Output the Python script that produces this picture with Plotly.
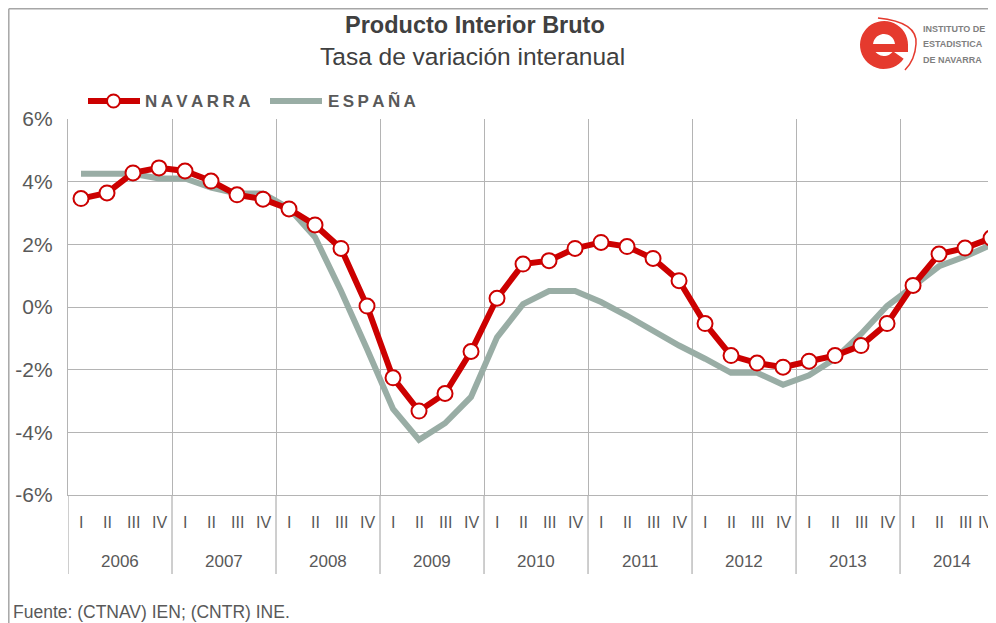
import math
import plotly.graph_objects as go

quarters = ["I", "II", "III", "IV"]
years = ["2006", "2007", "2008", "2009", "2010", "2011", "2012", "2013", "2014"]
navarra = [3.46, 3.64, 4.28, 4.44, 4.34, 4.02, 3.58, 3.44,
           3.13, 2.62, 1.87, 0.03, -2.26, -3.32, -2.76, -1.42,
           0.28, 1.37, 1.48, 1.87, 2.06, 1.93, 1.55, 0.84,
           -0.53, -1.55, -1.79, -1.92, -1.73, -1.55, -1.23, -0.53,
           0.69, 1.69, 1.88, 2.20]
espana = [4.25, 4.25, 4.25, 4.10, 4.10, 3.81, 3.62, 3.62,
          3.15, 2.23, 0.51, -1.34, -3.25, -4.24, -3.71, -2.87,
          -0.97, 0.09, 0.51, 0.51, 0.16, -0.28, -0.76, -1.23,
          -1.65, -2.10, -2.10, -2.48, -2.18, -1.65, -0.86, 0.03,
          0.66, 1.30, 1.61, 1.98]
y_ticks = [-6, -4, -2, 0, 2, 4, 6]
y_labels = ["-6%", "-4%", "-2%", "0%", "2%", "4%", "6%"]

# page offset (body margin) of the rendered html
OFF = 8
W, H = 996 - OFF, 623 - OFF
ML = 68 - OFF
MT = 119 - OFF
MR = 0
MB = H - (495 - OFF)
PW, PH = W - ML - MR, H - MT - MB

def px(x):
    """reference-picture x pixel -> paper coordinate"""
    return (x - OFF - ML) / PW

def py(y):
    """reference-picture y pixel -> paper coordinate"""
    return (H - MB - (y - OFF)) / PH

FONT = "Arial, Liberation Sans, sans-serif"
TXT = "#595959"
GRID = "#b4b4b4"
RED = "#cc0000"
GRAY = "#99ada5"

n = len(navarra)
xs = list(range(n))

fig = go.Figure()
fig.add_trace(go.Scatter(
    x=xs, y=espana, mode="lines", name="ESPAÑA",
    line=dict(color=GRAY, width=6), showlegend=False))
fig.add_trace(go.Scatter(
    x=xs, y=navarra, mode="lines+markers", name="NAVARRA",
    line=dict(color=RED, width=6),
    marker=dict(size=15, color="white", line=dict(color=RED, width=2)),
    showlegend=False))

shapes = []
annotations = []

# outer frame (top and left edges)
shapes.append(dict(type="line", xref="paper", yref="paper",
                   x0=px(8.8), x1=px(1010), y0=py(8.8), y1=py(8.8),
                   line=dict(color="#a6a6a6", width=1.5)))
shapes.append(dict(type="line", xref="paper", yref="paper",
                   x0=px(8.8), x1=px(8.8), y0=py(8.8), y1=py(640),
                   line=dict(color="#a6a6a6", width=1.5)))

# year separators below the axis
for k in range(len(years) + 1):
    xb = 4 * k - 0.5
    shapes.append(dict(type="line", xref="x", yref="paper",
                       x0=xb, x1=xb, y0=0, y1=py(574),
                       line=dict(color=GRID, width=1.3)))

# quarter and year labels
for i in range(n):
    if i == n - 1:
        annotations.append(dict(x=px(995), y=py(522), xref="paper", yref="paper",
                                text=quarters[i % 4], showarrow=False,
                                font=dict(family=FONT, size=16, color=TXT),
                                xanchor="right", yanchor="middle"))
    else:
        annotations.append(dict(x=i, y=py(522), xref="x", yref="paper",
                                text=quarters[i % 4], showarrow=False,
                                font=dict(family=FONT, size=16, color=TXT),
                                xanchor="center", yanchor="middle"))
for k, yr in enumerate(years):
    annotations.append(dict(x=4 * k + 1.5, y=py(561), xref="x", yref="paper",
                            text=yr, showarrow=False,
                            font=dict(family=FONT, size=17, color=TXT),
                            xanchor="center", yanchor="middle"))

# titles
annotations.append(dict(x=px(475), y=py(25), xref="paper", yref="paper",
                        text="<b>Producto Interior Bruto</b>", showarrow=False,
                        font=dict(family=FONT, size=23.5, color="#404040"),
                        xanchor="center", yanchor="middle"))
annotations.append(dict(x=px(472), y=py(57), xref="paper", yref="paper",
                        text="Tasa de variación interanual", showarrow=False,
                        font=dict(family=FONT, size=24.5, color="#404040"),
                        xanchor="center", yanchor="middle"))

# legend (manual)
shapes.append(dict(type="line", xref="paper", yref="paper",
                   x0=px(88), x1=px(140), y0=py(101), y1=py(101),
                   line=dict(color=RED, width=6)))
shapes.append(dict(type="circle", xref="paper", yref="paper",
                   x0=px(107), x1=px(120), y0=py(94.5), y1=py(107.5),
                   fillcolor="white", line=dict(color=RED, width=2)))
annotations.append(dict(x=px(143), y=py(101), xref="paper", yref="paper",
                        text="<b>N\u2009A\u2009V\u2009A\u2009R\u2009R\u2009A</b>",
                        showarrow=False,
                        font=dict(family=FONT, size=17, color=TXT),
                        xanchor="left", yanchor="middle"))
shapes.append(dict(type="line", xref="paper", yref="paper",
                   x0=px(270), x1=px(322), y0=py(101), y1=py(101),
                   line=dict(color=GRAY, width=6)))
annotations.append(dict(x=px(326), y=py(101), xref="paper", yref="paper",
                        text="<b>E\u2009S\u2009P\u2009A\u2009Ñ\u2009A</b>",
                        showarrow=False,
                        font=dict(family=FONT, size=17, color=TXT),
                        xanchor="left", yanchor="middle"))

# logo: drawn "e" (ring + bar) and a thin arc
LOGO = "#e53a2e"
cx, cy, R, r = 884, 45, 24, 11
pts = []
for s in range(0, 41):
    t = math.radians(0 + 325 * s / 40)
    pts.append((cx + R * math.cos(t), cy - R * math.sin(t)))
for s in range(40, -1, -1):
    t = math.radians(0 + 325 * s / 40)
    pts.append((cx + r * math.cos(t), cy - r * math.sin(t)))
path = "M " + " L ".join("{:.5f},{:.5f}".format(px(a), py(b)) for a, b in pts) + " Z"
shapes.append(dict(type="path", xref="paper", yref="paper", path=path,
                   fillcolor=LOGO, line=dict(width=0)))
shapes.append(dict(type="rect", xref="paper", yref="paper",
                   x0=px(cx - r - 1), x1=px(cx + R), y0=py(cy - 1), y1=py(cy + 7),
                   fillcolor=LOGO, line=dict(width=0)))
shapes.append(dict(type="path", xref="paper", yref="paper",
                   path="M {:.4f} {:.4f} Q {:.4f} {:.4f} {:.4f} {:.4f} Q {:.4f} {:.4f} {:.4f} {:.4f}".format(
                       px(878), py(18), px(918), py(22), px(916), py(44),
                       px(915), py(60), px(905), py(70)),
                   line=dict(color=LOGO, width=1.5)))
for j, t in enumerate(["INSTITUTO DE", "ESTADISTICA", "DE NAVARRA"]):
    annotations.append(dict(x=px(921), y=py(29 + 15.5 * j), xref="paper", yref="paper",
                            text="<b>" + t + "</b>", showarrow=False,
                            font=dict(family=FONT, size=9, color="#7f7f7f"),
                            xanchor="left", yanchor="middle"))

# footer
annotations.append(dict(x=px(11), y=py(612), xref="paper", yref="paper",
                        text="Fuente: (CTNAV) IEN; (CNTR) INE.", showarrow=False,
                        font=dict(family=FONT, size=17.5, color=TXT),
                        xanchor="left", yanchor="middle"))

fig.update_layout(
    width=W, height=H,
    margin=dict(l=ML, r=MR, t=MT, b=MB, pad=0),
    paper_bgcolor="white", plot_bgcolor="white",
    shapes=shapes, annotations=annotations,
    xaxis=dict(range=[-0.5, 35.19], tickvals=[4 * k + 3.5 for k in range(len(years))],
               showticklabels=False, showgrid=True, gridcolor=GRID, gridwidth=1.3,
               zeroline=False, showline=True, linecolor=GRID, linewidth=1.3,
               ticks="", fixedrange=True),
    yaxis=dict(range=[-6, 6], tickmode="array", tickvals=y_ticks, ticktext=y_labels,
               showgrid=True, gridcolor=GRID, gridwidth=1.3, zeroline=False,
               showline=True, linecolor=GRID, linewidth=1.3, ticks="",
               ticklabelstandoff=10,
               tickfont=dict(family=FONT, size=21, color=TXT), fixedrange=True),
    showlegend=False,
)

fig.write_html("out.html")
